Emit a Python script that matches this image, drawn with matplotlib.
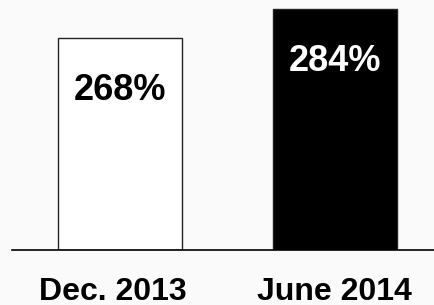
import numpy as np
import matplotlib as mpl
mpl.use('Agg')
import matplotlib.pyplot as plt
import matplotlib.transforms as mtransforms

plt.rcParams['font.family'] = ['Liberation Sans', 'DejaVu Sans']

periods = ['Dec. 2013', 'June 2014']
values = [268, 284]
labels = ['268%', '284%']
face_colors = ['white', 'black']
text_colors = ['black', 'white']

base = 150
bg = '#fafafa'

fig = plt.figure(figsize=(4.34, 3.05), dpi=100, facecolor=bg)
ax = fig.add_axes([12.3 / 434, 55.5 / 305, 1 - 12.3 / 434, 1 - 55.5 / 305])
ax.set_facecolor(bg)

x = np.arange(len(values))
heights = np.array(values) - base
ax.bar(x, heights, bottom=base, width=0.577, color=face_colors,
       edgecolor='#222222', linewidth=1.0)

for xi, v, lab, tc in zip(x, values, labels, text_colors):
	ax.annotate(lab, (xi, v), xytext=(0, -38), textcoords='offset points',
	            ha='center', va='center', fontsize=26, fontweight='bold',
	            color=tc)

ax.set_xlim(-0.5, 1.462)
ax.set_ylim(base, 289)

for s in ['top', 'right', 'left']:
	ax.spines[s].set_visible(False)
ax.spines['bottom'].set_linewidth(1.2)
ax.spines['bottom'].set_color('black')

ax.set_yticks([])
ax.set_xticks(x)
ax.set_xticklabels(periods, fontsize=23, fontweight='bold')
ax.tick_params(axis='x', length=0, pad=20)
# first label sits a little left of its bar
tl = ax.get_xticklabels()[0]
tl.set_transform(tl.get_transform() + mtransforms.ScaledTranslation(-6.7 / 100, 0, fig.dpi_scale_trans))

plt.savefig('out.png', dpi=100, facecolor=bg)
